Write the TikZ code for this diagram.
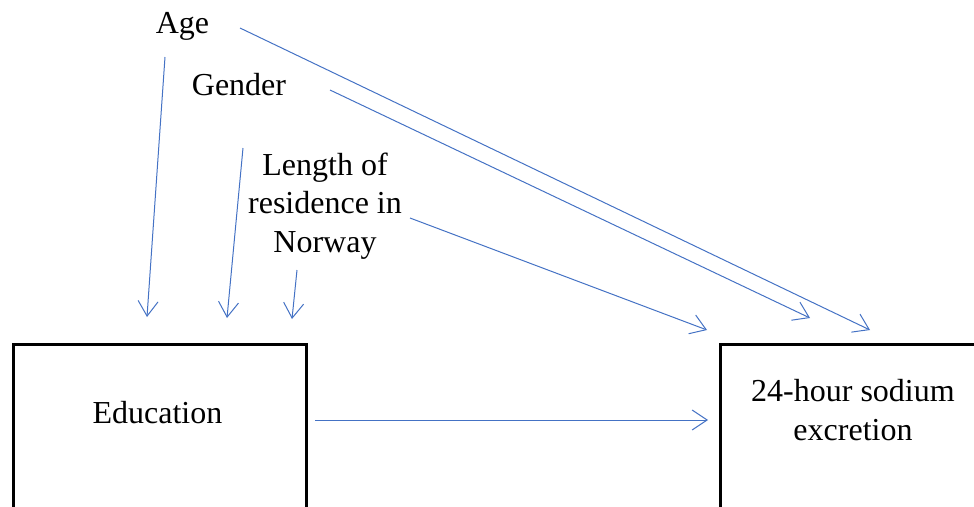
\documentclass[tikz,border=0pt]{standalone}
\usepackage{fontspec}
\setmainfont{Liberation Serif}
\usetikzlibrary{arrows.meta,positioning}
\definecolor{arrblue}{RGB}{68,114,196}
\tikzset{
  box/.style={draw=black,line width=2.5pt,anchor=north west,
              minimum height=220pt,inner sep=0pt},
  lbl/.style={font=\fontsize{32}{38.5}\selectfont,align=center,
              inner sep=0pt,anchor=base},
  arr/.style={-{Straight Barb[length=15pt,width=20pt]},line width=1pt,
              color=arrblue},
}

\begin{document}
\begin{tikzpicture}[x=1pt,y=-1pt]
  \useasboundingbox (0,0) rectangle (974,506);
  \clip (0,0) rectangle (974,506);
  % boxes run past the lower edge
  \node[box,minimum width=293pt](edubox) at (12,343){};
  \node[box,minimum width=268pt](nabox) at (719,343){};
  % multi-line labels sit on their last line
  \node[lbl](age) at (182.5,33){Age};
  \node[lbl](gender) at (239,95){Gender};
  \node[lbl](lor) at (325,252){Length of\\residence in\\Norway};
  \node[lbl](edu) at (157.5,423){Education};
  \node[lbl](na) at (853,440){24-hour sodium\\excretion};
  % arrow ends
  \coordinate (ageA) at (165,57);   \coordinate (eduA) at (147,317);
  \coordinate (genA) at (243,148);  \coordinate (eduG) at (227,318);
  \coordinate (lorA) at (297,270);  \coordinate (eduL) at (292,319);
  \coordinate (ageB) at (240,28);   \coordinate (naA)  at (870,330);
  \coordinate (genB) at (330,90);   \coordinate (naG)  at (810,318);
  \coordinate (lorB) at (410,218);  \coordinate (naL)  at (707,330);
  \coordinate (eduE) at (315,420);  \coordinate (naE)  at (708,420);
  \draw[arr](ageA)--(eduA);
  \draw[arr](genA)--(eduG);
  \draw[arr](lorA)--(eduL);
  \draw[arr](ageB)--(naA);
  \draw[arr](genB)--(naG);
  \draw[arr](lorB)--(naL);
  \draw[arr](eduE)--(naE);
\end{tikzpicture}
\end{document}
